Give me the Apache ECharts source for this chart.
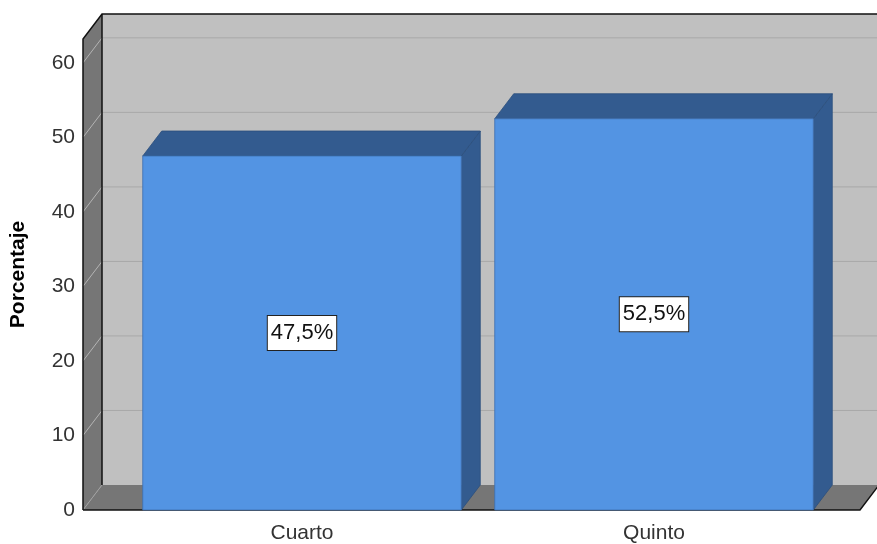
<!DOCTYPE html>
<html>
<head>
<meta charset="utf-8">
<script src="https://cdn.jsdelivr.net/npm/echarts@6/dist/echarts.min.js"></script>
<style>
html,body{margin:0;padding:0;background:#fff;}
#chart{width:877px;height:544px;}
</style>
</head>
<body>
<div id="chart"></div>
<script>
const categories = ['Cuarto', 'Quinto'];
const values = [47.5, 52.5];
const valueLabels = ['47,5%', '52,5%'];
const yTicks = [0, 10, 20, 30, 40, 50, 60];

const DX = 19, DY = 25;
const FRONT_LEFT = 83, FRONT_RIGHT = 860;
const FONT = 'Arial, "Liberation Sans", sans-serif';

const chart = echarts.init(document.getElementById('chart'));

const option = {
  animation: false,
  backgroundColor: '#fff',
  grid: { left: 119, right: 47, top: 39, bottom: 33 },
  xAxis: {
    type: 'category',
    data: categories,
    axisLine: { show: false },
    axisTick: { show: false },
    axisLabel: { color: '#333', fontSize: 21, fontFamily: FONT, margin: 13 }
  },
  yAxis: {
    type: 'value',
    min: 0,
    max: 63.2,
    interval: 10,
    name: 'Porcentaje',
    nameLocation: 'middle',
    nameGap: 97,
    nameRotate: 90,
    nameTextStyle: { color: '#000', fontSize: 21, fontWeight: 'bold', fontFamily: FONT },
    axisLine: { show: false },
    axisTick: { show: false },
    splitLine: { show: false },
    axisLabel: { color: '#333', fontSize: 21, fontFamily: FONT, margin: 51, showMaxLabel: false }
  },
  series: [
    {
      type: 'custom',
      z: 1,
      silent: true,
      data: [0],
      renderItem: function (params, api) {
        const y0 = api.coord([0, 0])[1];
        const yTop = params.coordSys.y;
        const children = [];
        children.push({ type: 'rect', shape: { x: FRONT_LEFT + DX, y: yTop - DY, width: 900, height: y0 - yTop }, style: { fill: '#c0c0c0' } });
        children.push({ type: 'polygon', shape: { points: [[FRONT_LEFT, yTop], [FRONT_LEFT + DX, yTop - DY], [FRONT_LEFT + DX, y0 - DY], [FRONT_LEFT, y0]] }, style: { fill: '#767676' } });
        children.push({ type: 'polygon', shape: { points: [[FRONT_LEFT, y0], [FRONT_LEFT + DX, y0 - DY], [FRONT_RIGHT + DX, y0 - DY], [FRONT_RIGHT, y0]] }, style: { fill: '#767676' } });
        yTicks.forEach(function (t) {
          if (t === 0) return;
          const y = api.coord([0, t])[1];
          children.push({ type: 'line', shape: { x1: FRONT_LEFT, y1: y, x2: FRONT_LEFT + DX, y2: y - DY }, style: { stroke: '#b4b4b4', lineWidth: 1 } });
          children.push({ type: 'line', shape: { x1: FRONT_LEFT + DX, y1: y - DY, x2: 900, y2: y - DY }, style: { stroke: '#a8a8a8', lineWidth: 1 } });
        });
        children.push({ type: 'line', shape: { x1: FRONT_LEFT, y1: y0, x2: FRONT_LEFT + DX, y2: y0 - DY }, style: { stroke: '#a0a0a0', lineWidth: 1 } });
        children.push({ type: 'polyline', shape: { points: [[FRONT_LEFT, y0], [FRONT_LEFT, yTop], [FRONT_LEFT + DX, yTop - DY], [900, yTop - DY]] }, style: { stroke: '#111', lineWidth: 1.5, fill: null } });
        children.push({ type: 'line', shape: { x1: FRONT_LEFT + DX, y1: yTop - DY, x2: FRONT_LEFT + DX, y2: y0 - DY }, style: { stroke: '#111', lineWidth: 1.5 } });
        children.push({ type: 'polyline', shape: { points: [[FRONT_LEFT, y0], [FRONT_RIGHT, y0], [FRONT_RIGHT + DX, y0 - DY]] }, style: { stroke: '#111', lineWidth: 1.5, fill: null } });
        return { type: 'group', children: children };
      }
    },
    {
      type: 'custom',
      z: 5,
      data: values.map(function (v, i) { return [i, v]; }),
      renderItem: function (params, api) {
        const i = api.value(0), v = api.value(1);
        const top = api.coord([i, v]);
        const base = api.coord([i, 0]);
        const w = api.size([1, 0])[0] * 0.905;
        const l = top[0] - w / 2, r = top[0] + w / 2;
        const side = '#335b8f';
        return {
          type: 'group',
          children: [
            { type: 'polygon', shape: { points: [[r, top[1]], [r + DX, top[1] - DY], [r + DX, base[1] - DY], [r, base[1]]] }, style: { fill: side, stroke: '#2c4f7c', lineWidth: 0.8 } },
            { type: 'polygon', shape: { points: [[l, top[1]], [l + DX, top[1] - DY], [r + DX, top[1] - DY], [r, top[1]]] }, style: { fill: side, stroke: '#2c4f7c', lineWidth: 0.8 } },
            { type: 'rect', shape: { x: l, y: top[1], width: w, height: base[1] - top[1] }, style: { fill: '#5394e3', stroke: '#3e6fae', lineWidth: 0.8 } },
            { type: 'text', x: top[0], y: (top[1] + base[1]) / 2, style: {
                text: valueLabels[i], fill: '#111', font: '22px ' + FONT, align: 'center', verticalAlign: 'middle',
                backgroundColor: '#fff', borderColor: '#222', borderWidth: 1, padding: [6, 3, 6, 3]
              } }
          ]
        };
      }
    }
  ]
};
chart.setOption(option);
</script>
</body>
</html>
